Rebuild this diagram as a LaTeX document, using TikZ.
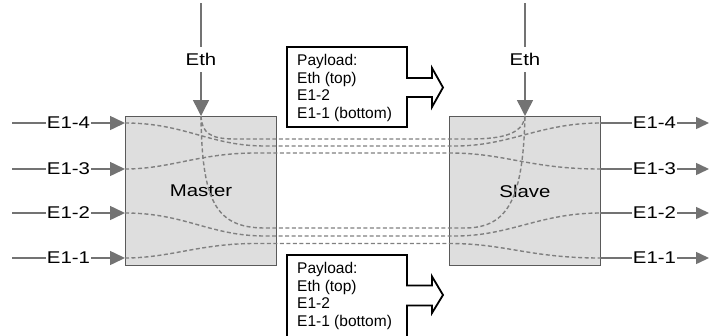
\documentclass[tikz,border=0pt]{standalone}
\usepackage{fontspec}
\usepackage{graphicx}
\setmainfont{Liberation Sans}
\usetikzlibrary{arrows.meta}
\definecolor{boxfill}{HTML}{DEDEDE}
\definecolor{boxline}{HTML}{5A5A5A}
\definecolor{conncol}{HTML}{737373}
\definecolor{dashcol}{HTML}{808080}
\newcommand\widetext[1]{\scalebox{1.2}[1]{#1}}
\begin{document}
\begin{tikzpicture}[x=1pt,y=-1pt,
  unitbox/.style={draw=boxline, line width=1.2pt, fill=boxfill, minimum width=151pt, minimum height=149pt, inner sep=0pt, font=\fontsize{17}{20}\selectfont},
  connline/.style={draw=conncol, line width=1.5pt, -{Triangle[length=15pt,width=14pt]}},
  connout/.style={draw=conncol, line width=1.5pt, -{Triangle[length=13pt,width=12pt]}},
  ethline/.style={draw=conncol, line width=1.5pt, -{Triangle[length=16pt,width=16pt]}},
  lbl/.style={fill=white, inner xsep=1pt, inner ysep=3pt, font=\fontsize{17}{20}\selectfont, text=black},
  ethlbl/.style={lbl, inner ysep=6pt},
  flow/.style={draw=dashcol, line width=1.4pt, dash pattern=on 4pt off 2.5pt},
  callout/.style={draw=black, line width=1.8pt, fill=white},
  payload/.style={align=left, inner sep=0pt, anchor=west, font=\fontsize{15.5}{17.7}\selectfont}
]
\useasboundingbox (0,0) rectangle (709,335);

% units
\node[unitbox] (master) at (201,191) {\widetext{Master}};
\node[unitbox] (slave) at (525,191) {\widetext{Slave}};

% port coordinates
\coordinate (m4) at (125,123);
\coordinate (m3) at (125,169);
\coordinate (m2) at (125,213);
\coordinate (m1) at (125,258);
\coordinate (s4) at (600,123);
\coordinate (s3) at (600,169);
\coordinate (s2) at (600,213);
\coordinate (s1) at (600,258);
\coordinate (meth) at (201,116);
\coordinate (seth) at (525,116);
\coordinate (in4) at (12,123);
\coordinate (in3) at (12,169);
\coordinate (in2) at (12,213);
\coordinate (in1) at (12,258);
\coordinate (out4) at (709,123);
\coordinate (out3) at (709,169);
\coordinate (out2) at (709,213);
\coordinate (out1) at (709,258);
\coordinate (methtop) at (201,3);
\coordinate (sethtop) at (525,3);

% dashed flows
\draw[flow] (meth) .. controls (202,133) and (210,139) .. (235,139) -- (470,139) .. controls (505,139) and (523,133) .. (seth);
\draw[flow] (m4) .. controls (185,123) and (210,146) .. (265,146) -- (455,146) .. controls (510,146) and (540,123) .. (s4);
\draw[flow] (m3) .. controls (170,169) and (200,153) .. (255,153) -- (450,153) .. controls (505,153) and (530,169) .. (s3);
\draw[flow] (meth) .. controls (202,200) and (215,228) .. (265,228) -- (465,228) .. controls (510,228) and (523,195) .. (seth);
\draw[flow] (m2) .. controls (185,213) and (210,236) .. (265,236) -- (455,236) .. controls (510,236) and (540,213) .. (s2);
\draw[flow] (m1) .. controls (170,258) and (200,243.5) .. (255,243.5) -- (450,243.5) .. controls (505,243.5) and (530,258) .. (s1);

% inputs
\draw[connline] (in4) -- node[lbl] {\widetext{E1-4}} (m4);
\draw[connline] (in3) -- node[lbl] {\widetext{E1-3}} (m3);
\draw[connline] (in2) -- node[lbl] {\widetext{E1-2}} (m2);
\draw[connline] (in1) -- node[lbl] {\widetext{E1-1}} (m1);
% outputs
\draw[connout] (s4) -- node[lbl] {\widetext{E1-4}} (out4);
\draw[connout] (s3) -- node[lbl] {\widetext{E1-3}} (out3);
\draw[connout] (s2) -- node[lbl] {\widetext{E1-2}} (out2);
\draw[connout] (s1) -- node[lbl] {\widetext{E1-1}} (out1);
% Ethernet
\draw[ethline] (methtop) -- node[ethlbl] {\widetext{Eth}} (meth);
\draw[ethline] (sethtop) -- node[ethlbl] {\widetext{Eth}} (seth);

% payload callouts
\draw[callout] (287,47) -- (407,47) -- (407,78) -- (432,78) -- (432,68) -- (443,87.5) -- (432,107) -- (432,97) -- (407,97) -- (407,127) -- (287,127) -- cycle;
\node[payload] (pltop) at (297,88) {Payload:\\Eth (top)\\E1-2\\E1-1 (bottom)};
\draw[callout] (287,255) -- (407,255) -- (407,285.5) -- (432,285.5) -- (432,276.5) -- (443,295) -- (432,313) -- (432,305.5) -- (407,305.5) -- (407,340) -- (287,340) -- cycle;
\node[payload] (plbot) at (297,296) {Payload:\\Eth (top)\\E1-2\\E1-1 (bottom)};
\end{tikzpicture}
\end{document}
